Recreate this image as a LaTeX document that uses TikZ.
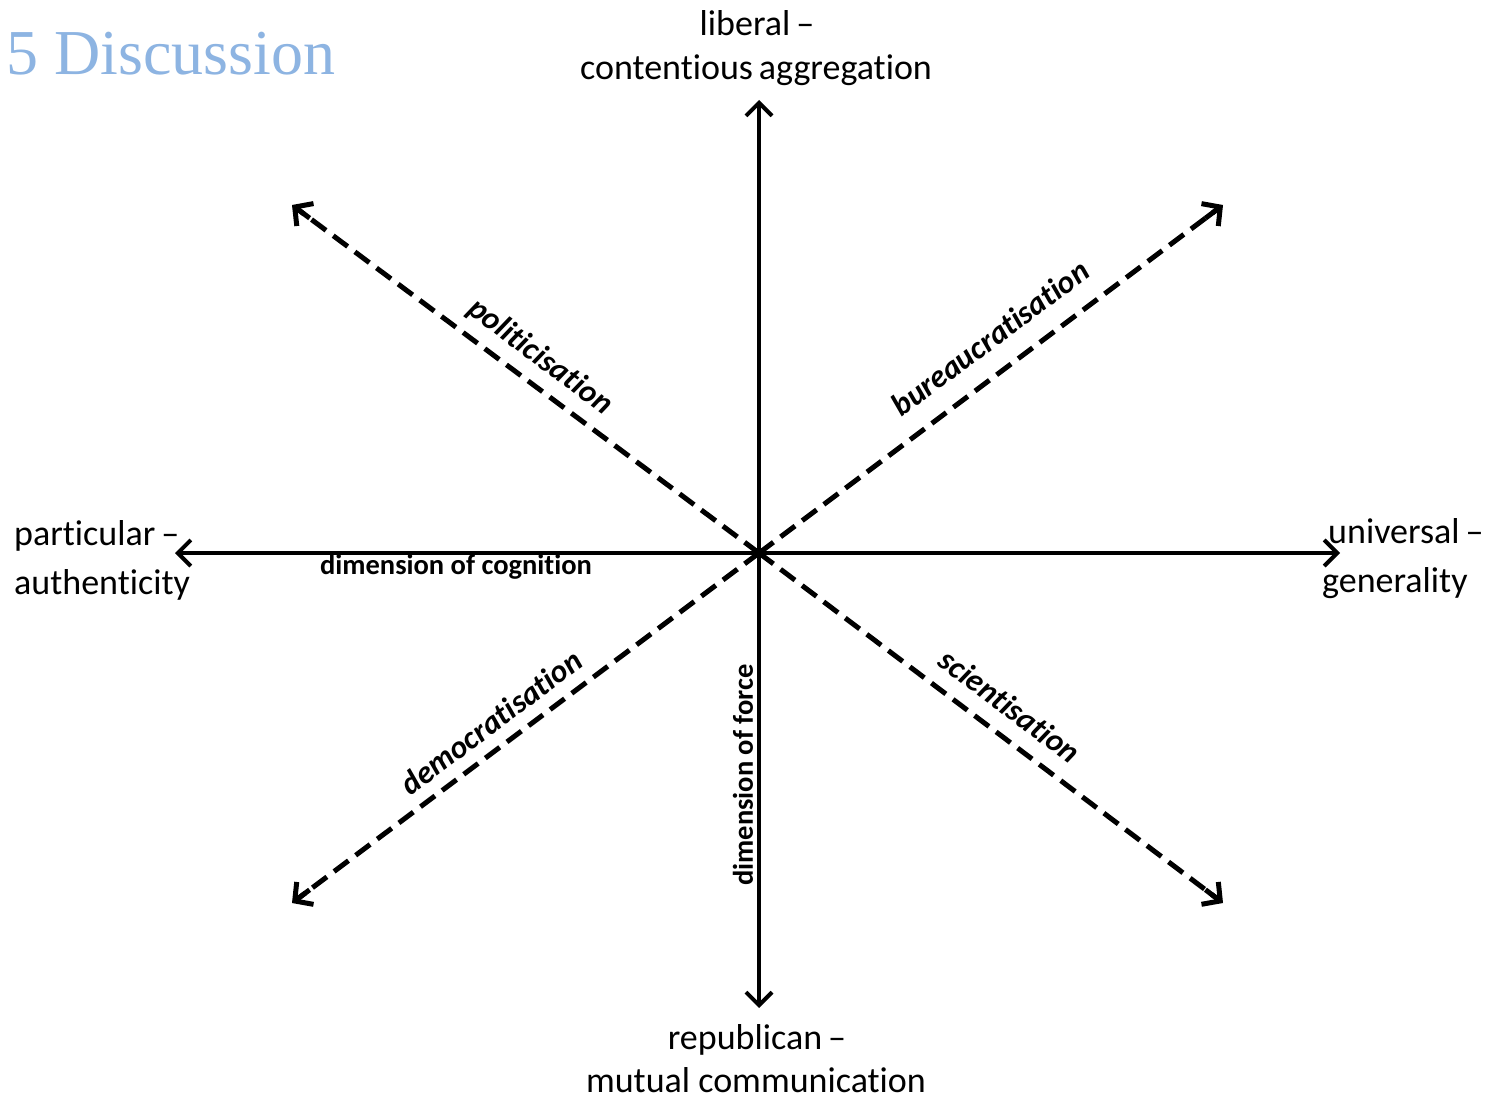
\documentclass[tikz,border=0pt]{standalone}
\usepackage{fontspec}
\setmainfont{Carlito}[Ligatures={NoCommon,TeX}]
\newfontfamily\titlefont{Liberation Serif}
\usetikzlibrary{arrows.meta,calc}
\definecolor{titleblue}{RGB}{141,180,226}
\begin{document}
\begin{tikzpicture}[x=1pt,y=-1pt,
  axis/.style={line width=4pt,-{Straight Barb[length=13pt,width=26pt]}},
  diag/.style={line width=5pt,dash pattern=on 18pt off 9pt},
  diagtip/.style={line width=5pt,-{Straight Barb[length=13pt,width=28pt]}},
  pole/.style={font=\fontsize{36}{46}\selectfont,inner sep=0pt},
  dimlab/.style={font=\fontsize{28.5}{30}\selectfont\bfseries,inner sep=0pt},
  dlab/.style={font=\fontsize{32}{34}\selectfont\bfseries\itshape,inner sep=0pt}]
\useasboundingbox (0,0) rectangle (1501,1099);
\fill[white] (0,0) rectangle (1501,1099);
\coordinate (c) at (759,553);
\coordinate (up) at (759,100);
\coordinate (dn) at (759,1008);
\coordinate (lf) at (175,553);
\coordinate (rt) at (1340,553);
\coordinate (ul) at (292,205);
\coordinate (ur) at (1223,205);
\coordinate (dl) at (292,903);
\coordinate (dr) at (1223,903);
\draw[axis] (c) -- (up);
\draw[axis] (c) -- (dn);
\draw[axis] (c) -- (lf);
\draw[axis] (c) -- (rt);
\foreach \e in {ul,ur,dl,dr}{
  \draw[diag] (c) -- ($(\e)!6pt!(c)$);
  \draw[diagtip] ($(\e)!22pt!(c)$) -- (\e);
}
\node[anchor=west,text=titleblue,font=\titlefont\fontsize{64}{70}\selectfont,inner sep=0pt] (title) at (6,54) {5 Discussion};
\node[pole,anchor=base] (top1) at (757,36) {liberal\,–};
\node[pole,anchor=base] (top2) at (756,80) {contentious\,aggregation};
\node[pole,anchor=base] (bot1) at (757,1049) {republican\,–};
\node[pole,anchor=base,text depth=0pt] (bot2) at (756,1092) {mutual communication};
\node[pole,anchor=base west] (lft1) at (14,545) {particular\,–};
\node[pole,anchor=base west] (lft2) at (14,594) {authenticity};
\node[pole,anchor=base west] (rgt1) at (1328,543) {universal\,–};
\node[pole,anchor=base west] (rgt2) at (1322,592) {generality};
\node[dimlab] (cog) at (456,567) {dimension of cognition};
\node[dimlab,rotate=90] (force) at (743,775) {dimension of force};
\node[dlab,rotate=-36.87] (pol) at (540,357) {politicisation};
\node[dlab,rotate=36.87] (bur) at (990,338) {bureaucratisation};
\node[dlab,rotate=36.87] (dem) at (491,722) {democratisation};
\node[dlab,rotate=-36.87] (sci) at (1010,706) {scientisation};
\end{tikzpicture}
\end{document}
